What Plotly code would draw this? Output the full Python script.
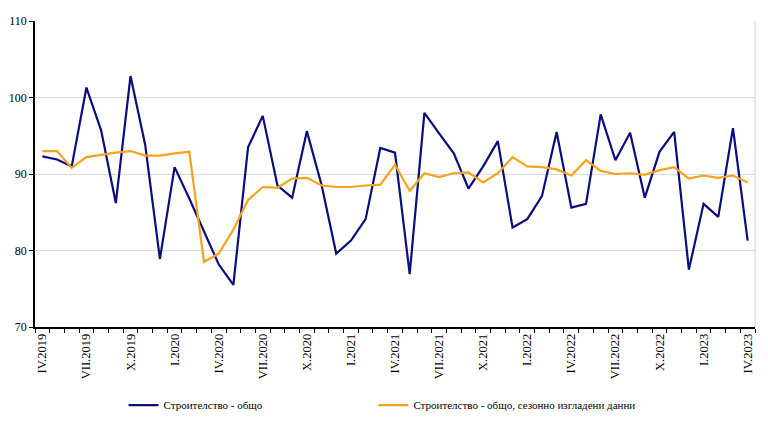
import plotly.graph_objects as go

roman = ["I", "II", "III", "IV", "V", "VI", "VII", "VIII", "IX", "X", "XI", "XII"]
months = []
for k in range(49):
    m = (3 + k) % 12
    y = 2019 + (3 + k) // 12
    months.append(f"{roman[m]}.{y}")

tick_labels = ["IV.2019", "VII.2019", "X.2019", "I.2020", "IV.2020", "VII.2020", "X.2020",
               "I.2021", "IV.2021", "VII.2021", "X.2021", "I.2022", "IV.2022", "VII.2022",
               "X.2022", "I.2023", "IV.2023"]

total = [92.3, 91.9, 91.0, 101.3, 95.7, 86.2, 102.8, 93.8, 78.9, 90.9,
         86.8, 82.5, 78.2, 75.5, 93.5, 97.6, 88.5, 86.9, 95.6, 88.6,
         79.6, 81.3, 84.1, 93.4, 92.8, 76.9, 98.0, 95.3, 92.7, 88.1,
         91.0, 94.3, 83.0, 84.1, 87.1, 95.5, 85.6, 86.1, 97.8, 91.8,
         95.4, 86.9, 92.9, 95.5, 77.5, 86.1, 84.4, 96.0, 81.3]

seasonal = [93.0, 93.0, 90.8, 92.2, 92.5, 92.8, 93.0, 92.4, 92.4, 92.7,
            92.9, 78.5, 79.6, 82.7, 86.6, 88.3, 88.2, 89.4, 89.5, 88.5,
            88.3, 88.3, 88.5, 88.6, 91.2, 87.8, 90.1, 89.6, 90.1, 90.2,
            88.9, 90.1, 92.2, 91.0, 90.9, 90.6, 89.8, 91.8, 90.4, 90.0,
            90.1, 89.9, 90.5, 90.9, 89.4, 89.8, 89.5, 89.8, 88.9]

x = list(range(len(months)))
tickvals = [months.index(t) for t in tick_labels]

SERIF = "Liberation Serif, Times New Roman, DejaVu Serif, serif"
LEG = dict(orientation="h", xanchor="left", y=-0.255, yanchor="middle",
           font=dict(family=SERIF, size=11, color="black"),
           itemwidth=30, bgcolor="rgba(0,0,0,0)")

fig = go.Figure()
fig.add_trace(go.Scatter(x=x, y=total, mode="lines", name="Строителство - общо",
                         line=dict(color="#0b0c7d", width=2.2), legend="legend"))
fig.add_trace(go.Scatter(x=x, y=seasonal, mode="lines",
                         name="Строителство - общо, сезонно изгладени данни",
                         line=dict(color="#f5a21f", width=2.2), legend="legend2"))

fig.update_layout(
    width=768, height=432,
    margin=dict(l=35, r=13, t=21, b=97),
    paper_bgcolor="white", plot_bgcolor="white",
    font=dict(family=SERIF, size=12, color="black"),
    showlegend=True,
    legend=dict(x=0.123, **LEG),
    legend2=dict(x=0.47, **LEG),
    xaxis=dict(range=[-0.5, 48.5], tickmode="array", tickvals=tickvals, ticktext=tick_labels,
               tickangle=-90, ticks="", showgrid=False, zeroline=False, automargin=False,
               showline=True, linecolor="black", linewidth=1.5,
               minor=dict(tickmode="linear", tick0=-0.5, dtick=1, ticks="outside",
                          ticklen=4, tickcolor="black", showgrid=False),
               tickfont=dict(family=SERIF, size=12.5, color="black")),
    yaxis=dict(range=[70, 110], tickvals=[70, 80, 90, 100, 110], ticks="outside",
               ticklen=4, tickcolor="black", showline=True, linecolor="black", linewidth=1.5,
               showgrid=True, gridcolor="#d9d9d9", gridwidth=1, zeroline=False, automargin=False,
               tickfont=dict(family=SERIF, size=12, color="black")),
)
fig.add_shape(type="line", xref="paper", yref="paper", x0=1, x1=1, y0=0, y1=1,
              line=dict(color="#d0d0d0", width=1))

fig.write_html("out.html", config={"displayModeBar": False},
               post_script="document.body.style.margin='0';document.body.style.overflow='hidden';")
